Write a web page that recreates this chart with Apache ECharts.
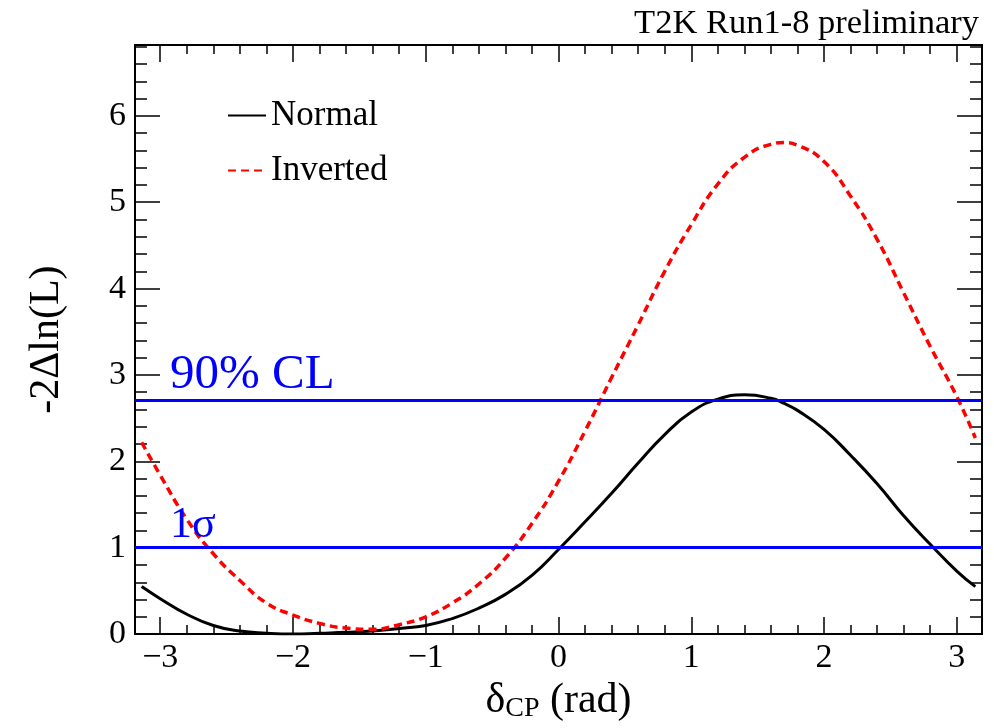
<!DOCTYPE html>
<html>
<head>
<meta charset="utf-8">
<script src="https://cdn.jsdelivr.net/npm/echarts@6/dist/echarts.min.js"></script>
<style>
  html, body { margin: 0; padding: 0; background: #fff; }
  #canvas { width: 994px; height: 728px; }
</style>
</head>
<body>
<div id="canvas"></div>
<script>
// delta_CP grid (rad) and -2 delta ln(L) values
const deltaCP = [-3.14, -3.0, -2.8, -2.6, -2.4, -2.2, -2.0, -1.8, -1.6, -1.4, -1.2, -1.0, -0.8, -0.6, -0.4, -0.2,
  0, 0.2, 0.4, 0.6, 0.8, 1.0, 1.2, 1.4, 1.6, 1.7, 1.8, 2.0, 2.2, 2.4, 2.6, 2.8, 3.0, 3.14];
const normal = [0.55, 0.41, 0.23, 0.10, 0.035, 0.01, 0.0, 0.01, 0.02, 0.035, 0.066, 0.10, 0.18, 0.30, 0.46, 0.68,
  0.98, 1.30, 1.63, 1.98, 2.31, 2.57, 2.72, 2.77, 2.73, 2.67, 2.59, 2.37, 2.07, 1.74, 1.37, 1.04, 0.73, 0.55];
const inverted = [2.22, 1.84, 1.33, 0.93, 0.62, 0.36, 0.22, 0.124, 0.07, 0.055, 0.11, 0.20, 0.36, 0.58, 0.88, 1.28,
  1.77, 2.35, 2.97, 3.58, 4.20, 4.74, 5.21, 5.52, 5.67, 5.69, 5.66, 5.47, 5.07, 4.57, 3.95, 3.33, 2.75, 2.27];

const clLevels = [2.71, 1.0];
const clLabels = ['90% CL', '1σ'];

const xMajor = [-3, -2, -1, 0, 1, 2, 3];
const xMinor = [-3.0, -2.8, -2.6, -2.4, -2.2, -2.0, -1.8, -1.6, -1.4, -1.2, -1.0, -0.8, -0.6, -0.4, -0.2,
  0, 0.2, 0.4, 0.6, 0.8, 1.0, 1.2, 1.4, 1.6, 1.8, 2.0, 2.2, 2.4, 2.6, 2.8, 3.0];
const yMajor = [0, 1, 2, 3, 4, 5, 6];
const yMinor = [0.2, 0.4, 0.6, 0.8, 1.2, 1.4, 1.6, 1.8, 2.2, 2.4, 2.6, 2.8, 3.2, 3.4, 3.6, 3.8,
  4.2, 4.4, 4.6, 4.8, 5.2, 5.4, 5.6, 5.8, 6.2, 6.4, 6.6, 6.8];

const FONT = 'Liberation Serif';

function pairs(xs, ys) {
  return xs.map((x, i) => [x, ys[i]]);
}

function xAx(pos, ticks, len, labels) {
  return {
    type: 'value', position: pos, min: -3.19, max: 3.19,
    axisLine: { show: false, onZero: false },
    splitLine: { show: false },
    axisTick: { show: true, inside: true, length: len, customValues: ticks, lineStyle: { color: '#000', width: 1.5 } },
    axisLabel: labels ? {
      show: true, customValues: labels, margin: 7,
      fontFamily: FONT, fontSize: 34, color: '#000',
      formatter: v => (v < 0 ? '\u2212' + Math.abs(v) : '' + v)
    } : { show: false },
  };
}

function yAx(pos, ticks, len, labels) {
  return {
    type: 'value', position: pos, min: 0, max: 6.82,
    axisLine: { show: false, onZero: false },
    splitLine: { show: false },
    axisTick: { show: true, inside: true, length: len, customValues: ticks, lineStyle: { color: '#000', width: 1.5 } },
    axisLabel: labels ? {
      show: true, customValues: labels, margin: 9,
      fontFamily: FONT, fontSize: 34, color: '#000'
    } : { show: false },
  };
}

const chart = echarts.init(document.getElementById('canvas'));

const xAxes = [
  xAx('bottom', xMajor, 17, xMajor),
  xAx('bottom', xMinor, 9),
  xAx('top', xMajor, 17),
  xAx('top', xMinor, 9),
];
xAxes[0].name = '{a|δ}{b|CP}{a| (rad)}';
xAxes[0].nameLocation = 'middle';
xAxes[0].nameGap = 38;
xAxes[0].nameTextStyle = {
  rich: {
    a: { fontFamily: FONT, fontSize: 42, color: '#000', lineHeight: 44 },
    b: { fontFamily: FONT, fontSize: 28, color: '#000', lineHeight: 20, verticalAlign: 'bottom' },
  },
};

const yAxes = [
  yAx('left', yMajor, 25, yMajor),
  yAx('left', yMinor, 12),
  yAx('right', yMajor, 25),
  yAx('right', yMinor, 12),
];
yAxes[0].name = '-2\u0394ln(L)';
yAxes[0].nameLocation = 'middle';
yAxes[0].nameGap = 67;
yAxes[0].nameTextStyle = { fontFamily: FONT, fontSize: 42, color: '#000' };

const option = {
  animation: false,
  backgroundColor: '#fff',
  title: {
    text: 'T2K Run1-8 preliminary',
    right: 10, top: 1,
    textStyle: { fontFamily: FONT, fontSize: 34.5, fontWeight: 'normal', color: '#000' },
  },
  legend: {
    orient: 'vertical',
    left: 222, top: 93,
    itemWidth: 38, itemHeight: 14, itemGap: 20,
    data: ['Normal', 'Inverted'],
    itemStyle: { opacity: 0 },
    textStyle: { fontFamily: FONT, fontSize: 35, color: '#000', lineHeight: 35 },
  },
  grid: {
    left: 135, right: 12, top: 45, bottom: 93,
    show: true, borderColor: '#000', borderWidth: 2,
  },
  xAxis: xAxes,
  yAxis: yAxes,
  series: [
    {
      name: 'Normal', type: 'line', smooth: 0.5, symbol: 'none',
      data: pairs(deltaCP, normal),
      lineStyle: { color: '#000', width: 3 },
      itemStyle: { color: '#000' },
      markLine: {
        silent: true, symbol: 'none',
        lineStyle: { color: '#0000ff', width: 3, type: 'solid' },
        label: {
          position: 'insideStartTop', distance: 0,
          fontFamily: FONT, color: '#0000ff', padding: [0, 0, 0, 35],
        },
        data: clLevels.map((v, i) => ({
          yAxis: v,
          label: { formatter: clLabels[i], fontSize: i === 0 ? 49 : 44 },
        })),
      },
      z: 3,
    },
    {
      name: 'Inverted', type: 'line', smooth: 0.5, symbol: 'none',
      data: pairs(deltaCP, inverted),
      lineStyle: { color: '#ff0000', width: 3.5, type: [8, 5] },
      itemStyle: { color: '#ff0000' },
      z: 4,
    },
  ],
};

chart.setOption(option, true);
</script>
</body>
</html>
